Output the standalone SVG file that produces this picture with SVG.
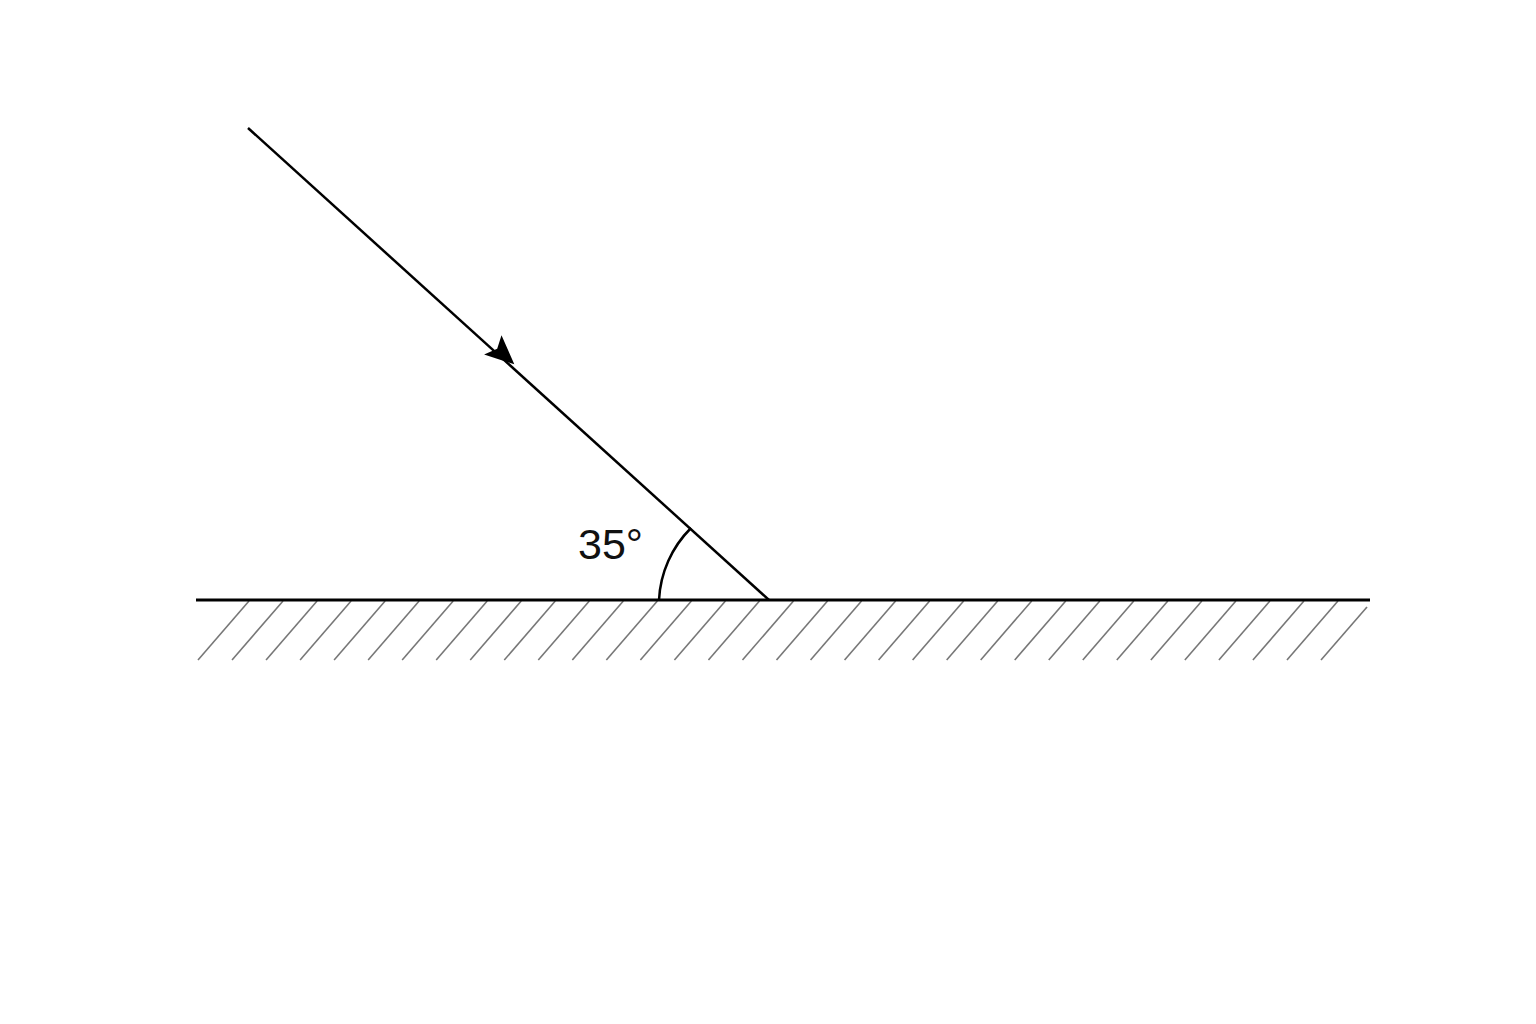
<svg xmlns="http://www.w3.org/2000/svg" width="1536" height="1024" viewBox="0 0 1536 1024">
<defs>
<style>
.ink{stroke:#000;fill:none;stroke-linecap:butt}
.hatch{stroke:#777;stroke-width:1.6;fill:none}
.lbl{font-family:"Liberation Sans",Arial,sans-serif;font-size:43px;fill:#111}
</style>
<line id="hl" class="hatch" x1="0" y1="660" x2="51" y2="601"/>
</defs>
<rect width="1536" height="1024" fill="#fff"/>
<g id="hatching">
<use href="#hl" x="198"/><use href="#hl" x="232.03"/><use href="#hl" x="266.06"/><use href="#hl" x="300.09"/>
<use href="#hl" x="334.12"/><use href="#hl" x="368.15"/><use href="#hl" x="402.18"/><use href="#hl" x="436.21"/>
<use href="#hl" x="470.24"/><use href="#hl" x="504.27"/><use href="#hl" x="538.3"/><use href="#hl" x="572.33"/>
<use href="#hl" x="606.36"/><use href="#hl" x="640.39"/><use href="#hl" x="674.42"/><use href="#hl" x="708.45"/>
<use href="#hl" x="742.48"/><use href="#hl" x="776.51"/><use href="#hl" x="810.54"/><use href="#hl" x="844.57"/>
<use href="#hl" x="878.6"/><use href="#hl" x="912.63"/><use href="#hl" x="946.66"/><use href="#hl" x="980.69"/>
<use href="#hl" x="1014.72"/><use href="#hl" x="1048.75"/><use href="#hl" x="1082.78"/><use href="#hl" x="1116.81"/>
<use href="#hl" x="1150.84"/><use href="#hl" x="1184.87"/><use href="#hl" x="1218.9"/><use href="#hl" x="1252.93"/>
<use href="#hl" x="1286.96"/>
<line class="hatch" x1="1321" y1="660" x2="1367" y2="607"/>
</g>
<g id="surface">
<line class="ink" x1="196" y1="600" x2="1370" y2="600" stroke-width="3"/>
</g>
<g id="connectors">
<line class="ink" x1="248" y1="128" x2="769" y2="600" stroke-width="2.5"/>
<path d="M514.3,364.3 L484.1,354.5 L497.2,348.8 L501.5,335.2 Z" fill="#000"/>
</g>
<g id="angle">
<path class="ink" stroke-width="2.5" d="M659,600 A109,109 0 0 1 691,528"/>
<text class="lbl" x="578" y="559">35°</text>
</g>
</svg>
